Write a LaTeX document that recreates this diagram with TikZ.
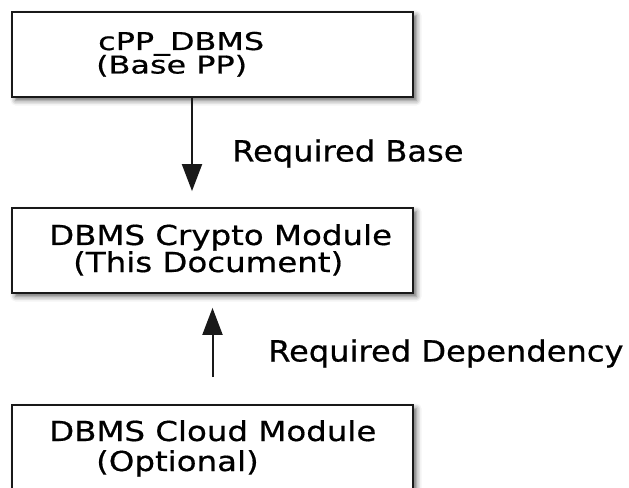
\documentclass[tikz,border=0pt]{standalone}
\usepackage{fontspec}
\usetikzlibrary{arrows.meta,shadows.blur,calc}
\newfontfamily\boxfont[FakeStretch=1.18,FakeBold=0.6]{DejaVu Sans}
\newfontfamily\basefont[FakeStretch=1.3,FakeBold=0.6]{DejaVu Sans}
\newfontfamily\linkfont[FakeStretch=1.1,FakeBold=0.6]{DejaVu Sans}
\begin{document}
\begin{tikzpicture}[x=1bp,y=-1bp,
  module/.style={draw=black!90, line width=1.8bp, fill=white,
    minimum width=401bp, minimum height=85bp, inner sep=0pt,
    blur shadow={shadow xshift=3.5bp, shadow yshift=-3.5bp,
      shadow blur radius=5bp, shadow opacity=60}},
  boxtext/.style={anchor=base west, inner sep=0pt,
    font=\boxfont\fontsize{27.5bp}{30bp}\selectfont},
  basetext/.style={anchor=base west, inner sep=0pt,
    font=\basefont\fontsize{24.5bp}{28bp}\selectfont},
  linktext/.style={anchor=base west, inner sep=0pt,
    font=\linkfont\fontsize{29.2bp}{34bp}\selectfont},
  link/.style={draw=black!90, line width=2bp,
    -{Triangle[length=27bp, width=20bp]}}]
  \useasboundingbox (0,0) rectangle (629,488);
  \clip (0,0) rectangle (629,488);

  % modules
  \node[module] (base)   at (212.5,54.5)  {};
  \node[module] (crypto) at (212.5,250.5) {};
  \node[module] (cloud)  at (212.5,447.5) {};

  % module titles
  \node[basetext] (baseA)  at (98,50)   {cPP\_DBMS};
  \node[basetext] (baseB)  at (96,73.5) {(Base PP)};
  \node[boxtext] (cryptoA) at (49,245)  {DBMS Crypto Module};
  \node[boxtext] (cryptoB) at (73,272)  {(This Document)};
  \node[boxtext] (cloudA)  at (49,441)  {DBMS Cloud Module};
  \node[boxtext] (cloudB)  at (96,471)  {(Optional)};

  % dependency arrows
  \path (crypto.north) ++(-20.5,-16) coordinate (baseTip);
  \draw[link] (base.south -| baseTip) -- (baseTip);
  \path (cloud.north)  ++(0,-27) coordinate (cloudTail);
  \path (crypto.south) ++(0,14)  coordinate (cloudTip);
  \draw[link] (cloudTail) -- (cloudTip);

  % arrow labels
  \node[linktext] (reqBase) at (232,161.5) {Required Base};
  \node[linktext] (reqDep)  at (268,361.5) {Required Dependency};
\end{tikzpicture}
\end{document}
